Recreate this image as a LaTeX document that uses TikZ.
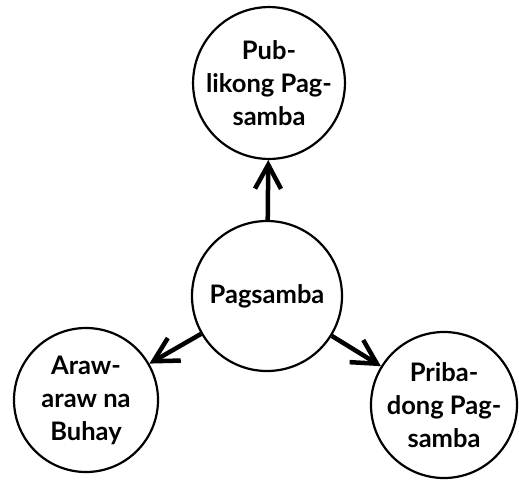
\documentclass[tikz,border=0pt]{standalone}
\usepackage{fontspec}
\setmainfont{Lato}
\usetikzlibrary{arrows.meta}
\begin{document}
\begin{tikzpicture}[x=1pt,y=-1pt,
  bubble/.style={circle,draw,line width=2.2pt,inner sep=0pt,align=center,
    font=\bfseries\fontsize{25.5}{33}\selectfont},
  link/.style={line width=4.5pt,-{Straight Barb[length=24pt,width=26pt,line width=4.5pt]}}]
\useasboundingbox (0,0) rectangle (519,485);
\node[bubble,minimum size=147pt] (top) at (269,83) {Pub-\\likong Pag-\\samba};
\node[bubble,minimum size=150pt] (c) at (267,296) {Pagsamba};
\node[bubble,minimum size=144pt] (l) at (86,400) {Araw-\\araw na\\Buhay};
\node[bubble,minimum size=146pt] (r) at (444,405) {Priba-\\dong Pag-\\samba};
\draw[link] (c) -- (top);
\draw[link] (c) -- (l);
\draw[link] (c) -- (r);
\end{tikzpicture}
\end{document}
